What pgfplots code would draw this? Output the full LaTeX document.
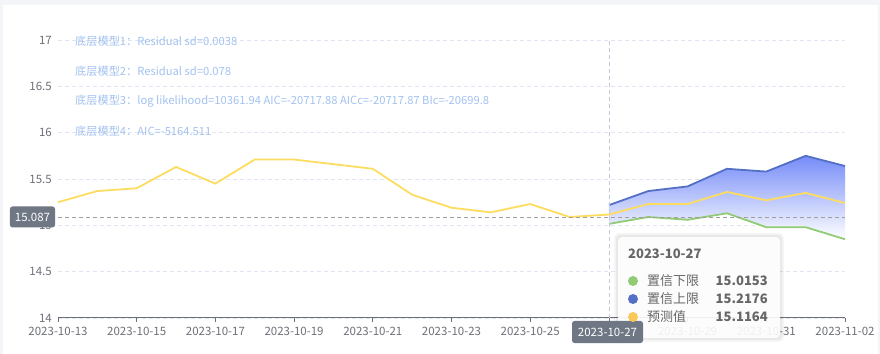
\documentclass[border=0pt]{standalone}
\usepackage{fontspec}
\setmainfont{Noto Sans CJK SC}
\usepackage{pgfplots}
\pgfplotsset{compat=1.18}
\definecolor{axisgray}{HTML}{6E7079}
\definecolor{gridc}{HTML}{E0E6F1}
\definecolor{yel}{HTML}{FDDD60}
\definecolor{yeldot}{HTML}{FAC858}
\definecolor{grn}{HTML}{91CC75}
\definecolor{blu}{HTML}{5470C6}
\definecolor{anno}{HTML}{A3C2F0}
\definecolor{bgc}{HTML}{F4F5F9}
\definecolor{ptrc}{HTML}{6E7783}
\definecolor{vline}{HTML}{C3C8DC}
\definecolor{tipt}{HTML}{666666}
\definecolor{bandtop}{RGB}{118,140,248}
\begin{document}
\begin{tikzpicture}
\useasboundingbox (0bp,0bp) rectangle (880bp,354bp);
\fill[bgc] (0bp,0bp) rectangle (880bp,354bp);
\fill[white] (3bp,0bp) rectangle (878bp,349bp);
\begin{axis}[
  at={(58bp,36bp)}, anchor=south west,
  scale only axis, width=787bp, height=278bp,
  xmin=0, xmax=20, ymin=14, ymax=17,
  xtick={0,2,...,20},
  xticklabels={2023-10-13,2023-10-15,2023-10-17,2023-10-19,2023-10-21,2023-10-23,2023-10-25,2023-10-27,2023-10-29,2023-10-31,2023-11-02},
  ytick={14,14.5,...,17},
  /pgf/number format/assume math mode=true,
  axis x line*=bottom, axis y line*=left,
  y axis line style={draw=none},
  x axis line style={axisgray, line width=1bp, -},
  tick align=outside, major tick length=4bp,
  xtick style={axisgray, line width=0.8bp},
  ytick style={draw=none},
  ymajorgrids, grid style={gridc, line width=0.8bp, dash pattern=on 4bp off 3bp},
  ticklabel style={font=\fontsize{11.5bp}{13bp}\selectfont, text=axisgray, inner sep=0pt},
  xticklabel style={anchor=north, yshift=-5bp},
  yticklabel style={anchor=east, xshift=-2bp},
]
% confidence band: upper forward, lower backward
\addplot[draw=none, top color=bandtop, bottom color=white] coordinates {
  (14,15.2176) (15,15.37) (16,15.42) (17,15.61) (18,15.58) (19,15.75) (20,15.64)
  (20,14.85) (19,14.98) (18,14.98) (17,15.13) (16,15.06) (15,15.09) (14,15.0153)} --cycle;
\addplot[blu, line width=1.8bp] coordinates {
  (14,15.2176) (15,15.37) (16,15.42) (17,15.61) (18,15.58) (19,15.75) (20,15.64)};
\addplot[grn, line width=1.8bp] coordinates {
  (14,15.0153) (15,15.09) (16,15.06) (17,15.13) (18,14.98) (19,14.98) (20,14.85)};
\addplot[yel, line width=1.8bp] coordinates {
  (0,15.25) (1,15.37) (2,15.40) (3,15.63) (4,15.45) (5,15.71) (6,15.71)
  (7,15.66) (8,15.61) (9,15.33) (10,15.19) (11,15.14) (12,15.23) (13,15.09)
  (14,15.1164) (15,15.23) (16,15.23) (17,15.36) (18,15.27) (19,15.35) (20,15.24)};
\draw[vline, line width=0.8bp, dash pattern=on 4bp off 3bp] (axis cs:14,14) -- (axis cs:14,17);
\draw[gray!75, line width=0.8bp, dash pattern=on 4bp off 3bp] (axis cs:0,15.087) -- (axis cs:20,15.087);
\end{axis}
\begin{scope}[x=1bp,y=1bp]
% annotations
\begin{scope}[every node/.style={anchor=west, inner sep=0pt, text=anno, font=\fontsize{11.2bp}{13bp}\selectfont}]
\node at (75,313) {底层模型1：Residual sd=0.0038};
\node at (75,283) {底层模型2：Residual sd=0.078};
\node at (75,253) {底层模型3：log likelihood=10361.94 AIC=-20717.88 AICc=-20717.87 BIc=-20699.8};
\node at (75,223) {底层模型4：AIC=-5164.511};
\end{scope}
% axis pointer labels
\node[fill=ptrc, text=white, rounded corners=2.5bp, minimum width=45bp, minimum height=21bp, inner sep=0pt,
  font=\fontsize{11.5bp}{13bp}\selectfont] at (32.5,137) {15.087};
% tooltip
\fill[black, opacity=0.04, rounded corners=5bp] (614,12) rectangle (784,121);
\fill[black, opacity=0.05, rounded corners=4bp] (616,14) rectangle (782,119);
\fill[white, fill opacity=0.9, rounded corners=4bp] (618,16) rectangle (780,117);
\node[fill=ptrc, text=white, rounded corners=2.5bp, minimum width=71bp, minimum height=22bp, inner sep=0pt,
  font=\fontsize{11.5bp}{13bp}\selectfont] at (607.5,22) {2023-10-27};
\begin{scope}[text=tipt]
\node[anchor=west, inner sep=0pt, font=\fontsize{13bp}{15bp}\selectfont\bfseries] at (628,100) {2023-10-27};
\fill[grn] (633,73) circle (5bp);
\fill[blu] (633,55) circle (5bp);
\fill[yeldot] (633,37) circle (5bp);
\node[anchor=west, inner sep=0pt, font=\fontsize{13bp}{15bp}\selectfont] at (647,73) {置信下限};
\node[anchor=west, inner sep=0pt, font=\fontsize{13bp}{15bp}\selectfont] at (647,55) {置信上限};
\node[anchor=west, inner sep=0pt, font=\fontsize{13bp}{15bp}\selectfont] at (647,37) {预测值};
\node[anchor=east, inner sep=0pt, font=\fontsize{13bp}{15bp}\selectfont\bfseries] at (768,73) {15.0153};
\node[anchor=east, inner sep=0pt, font=\fontsize{13bp}{15bp}\selectfont\bfseries] at (768,55) {15.2176};
\node[anchor=east, inner sep=0pt, font=\fontsize{13bp}{15bp}\selectfont\bfseries] at (768,37) {15.1164};
\end{scope}
\end{scope}
\end{tikzpicture}
\end{document}
